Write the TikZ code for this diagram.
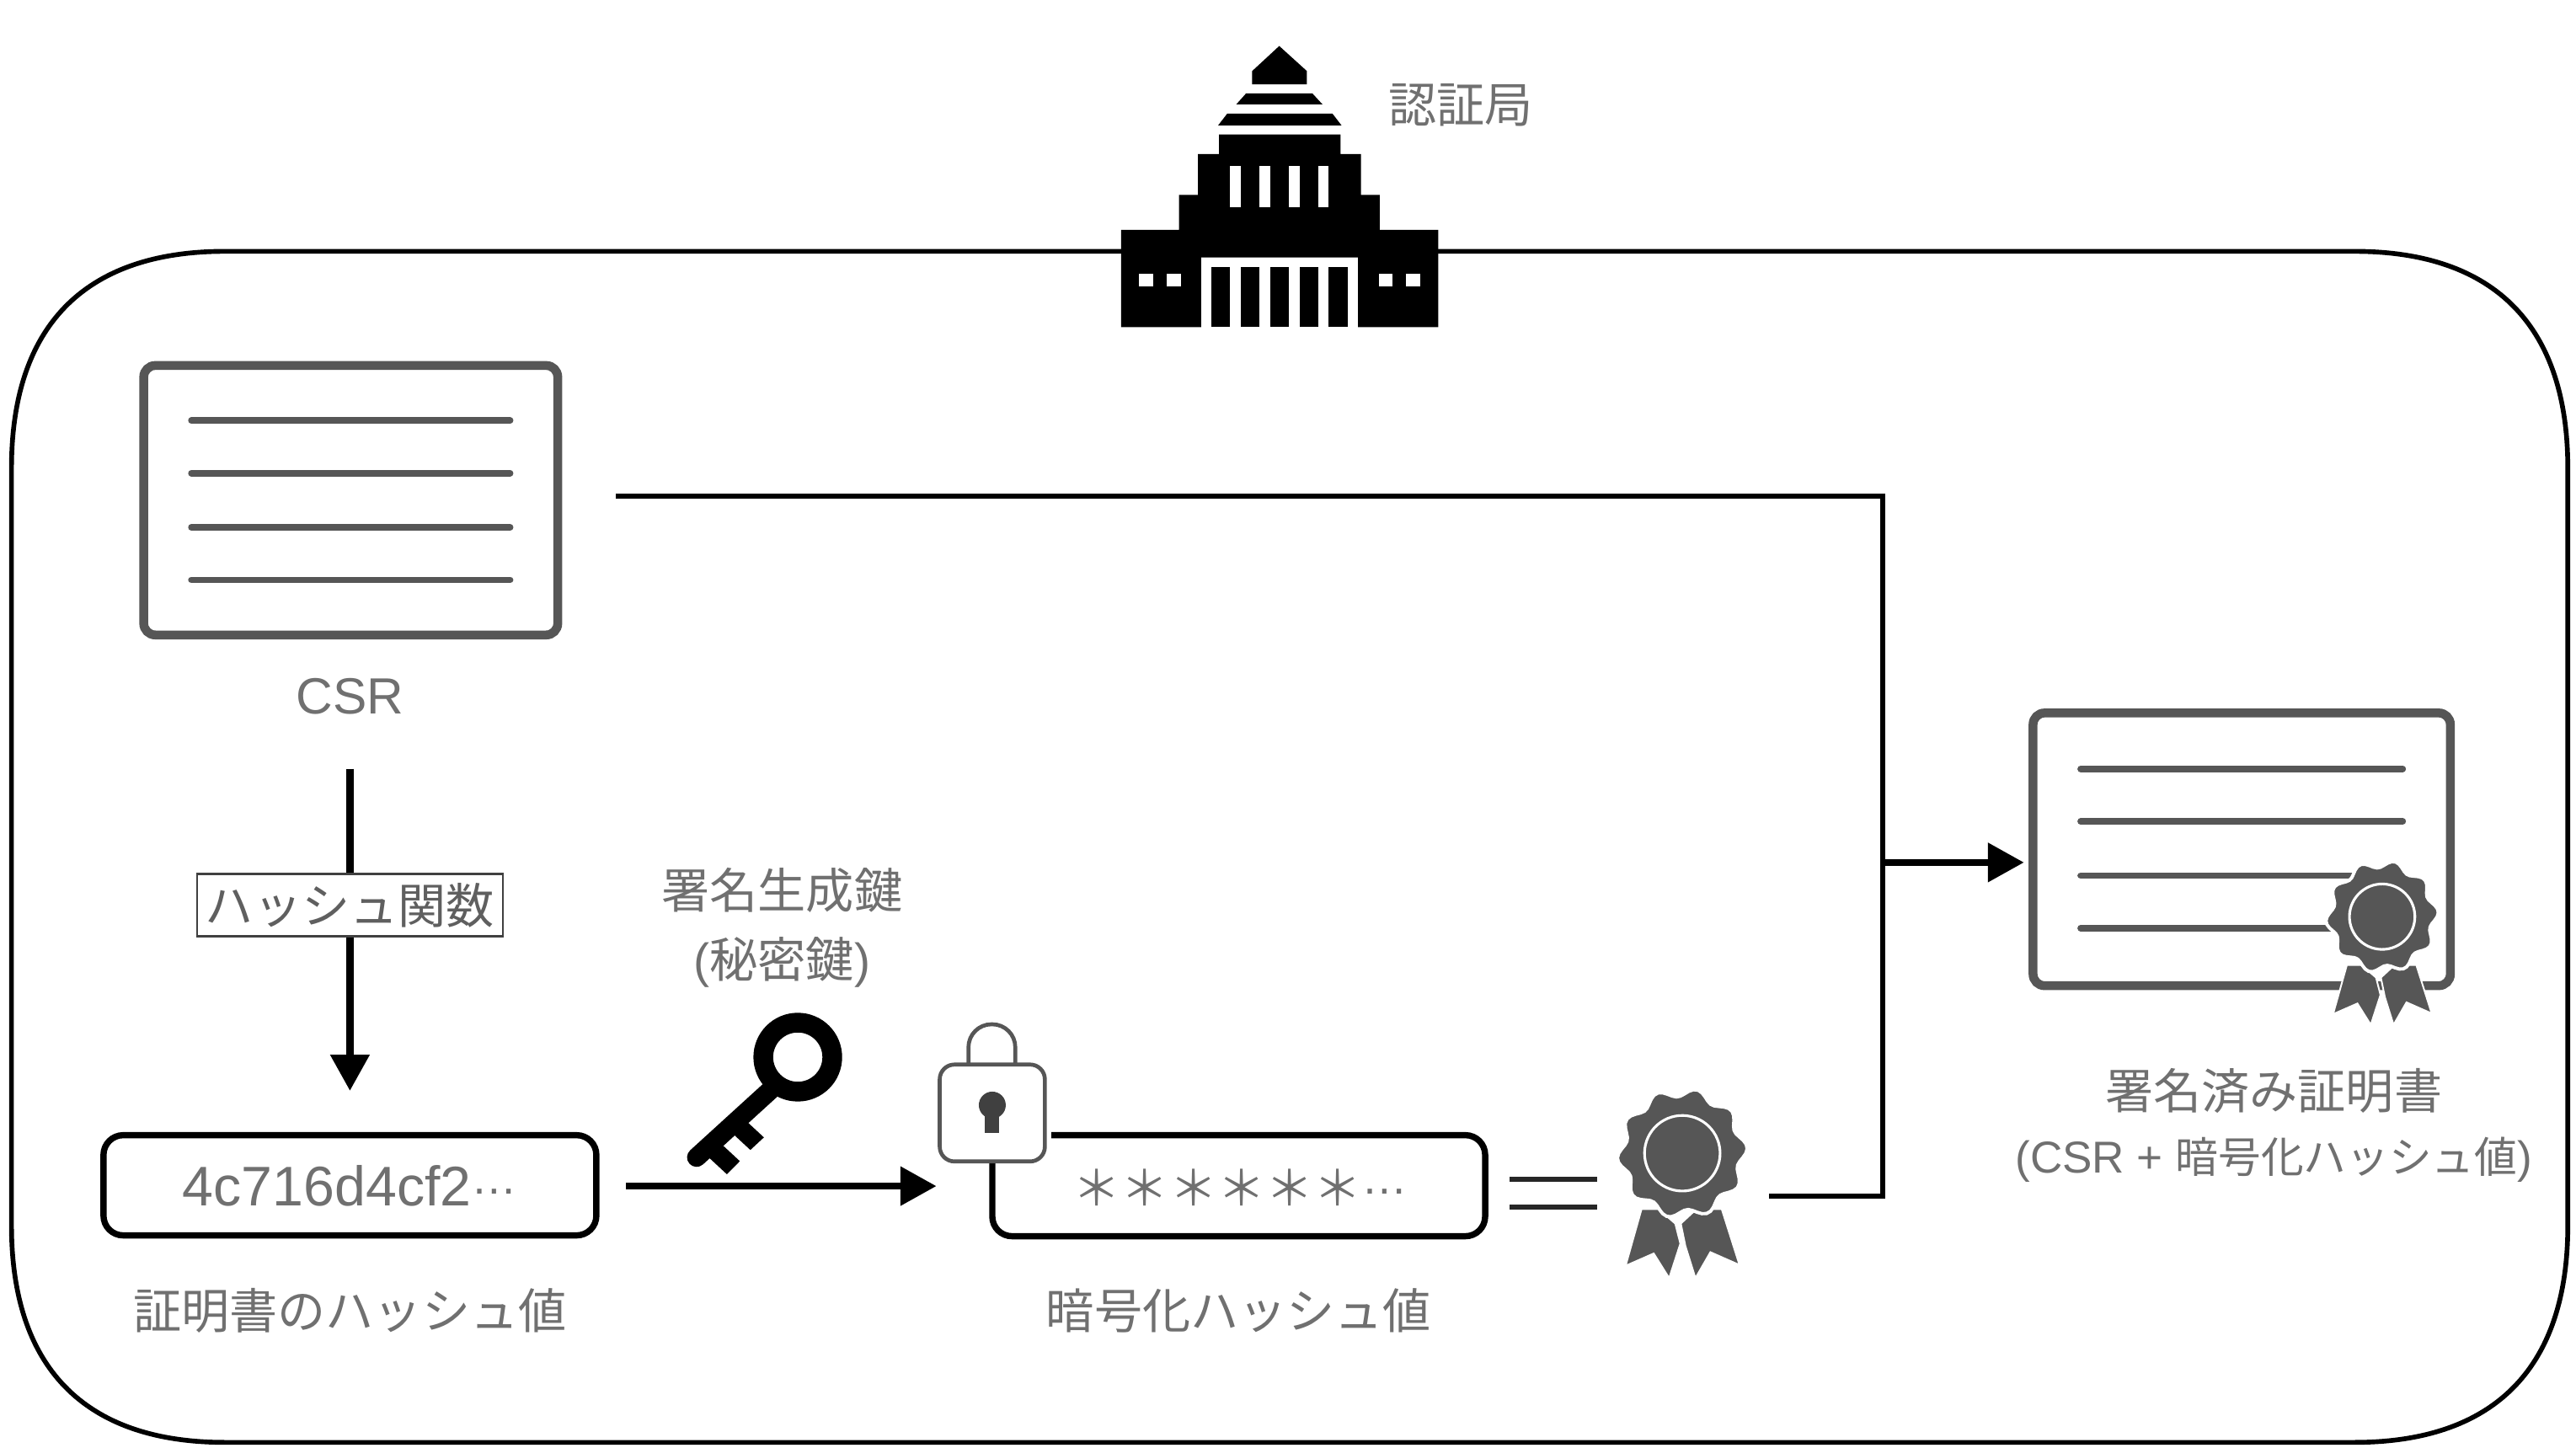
\documentclass[tikz,border=0pt]{standalone}
\usepackage{fontspec}
\setmainfont{Liberation Sans}
\newfontfamily\cjk{Noto Sans CJK JP}
\usetikzlibrary{arrows.meta}
\definecolor{txtgray}{HTML}{707070}
\definecolor{icongray}{HTML}{565656}
\tikzset{
  lbl/.style={text=txtgray,font=\cjk\fontsize{14.65}{18}\selectfont,inner sep=0pt,align=center},
  thinline/.style={draw=black,line width=1.55pt},
  thickline/.style={draw=black,line width=2.2pt},
  valuebox/.style={draw=black,line width=1.9pt,rounded corners=6pt,inner sep=0pt},
  docbox/.style={draw=icongray,line width=2.7pt,rounded corners=3.5pt,inner sep=0pt,minimum width=126pt,minimum height=82pt},
  docline/.style={draw=icongray,line width=2pt,line cap=round},
  headtip/.style={-{Triangle[length=11pt,width=11.5pt]}},
}
\newcommand{\middots}{\raisebox{3.6pt}{\rmfamily\fontsize{14}{18}\selectfont …}}
\newcommand{\sealicon}[3]{%
  \begin{scope}[shift={(#1,#2)},scale=#3]
    \fill[icongray,draw=white,line width=0.5pt] (-24.8,34)--(-14.5,34)--(-4.3,42.8)--(-1.2,55)--(-8,76)--(-17.4,61)--(-34.5,68.5)--cycle;
    \fill[icongray,draw=white,line width=0.5pt] (-0.9,42.8)--(8.6,34)--(24,34)--(34.8,68)--(17.1,60.2)--(8,76)--(1.9,56.5)--cycle;
    \path[fill=icongray,draw=white,line width=1pt] plot[domain=0:356,samples=90] ({(37+2.6*cos(10*\x+50))*cos(\x)},{(37+2.6*cos(10*\x+50))*sin(\x)}) -- cycle;
    \path[draw=white,line width=0.8pt] plot[domain=0:356,samples=60] ({23*cos(\x)},{23*sin(\x)}) -- cycle;
  \end{scope}}
\begin{document}
\begin{tikzpicture}[x=0.5pt,y=-0.5pt]
\useasboundingbox (0,0) rectangle (1568,881);
\fill[white] (0,0) rectangle (1568,881);
% frame
\draw[black,line width=1.45pt] (137,153) -- (1433,153)
  .. controls (1520,153) and (1563,200) .. (1563,285) -- (1563,746)
  .. controls (1563,831) and (1520,878) .. (1433,878) -- (137,878)
  .. controls (50,878) and (7,831) .. (7,746) -- (7,285)
  .. controls (7,200) and (50,153) .. (137,153) -- cycle;
% building
\begin{scope}[shift={(656.4,17)},x=0.0915pt,y=-0.0847pt]
  \fill[black] (668,65)--(760,155)--(760,203)--(578,203)--(578,155)--cycle;
  \fill[black] (558,235)--(778,235)--(812,275)--(525,275)--cycle;
  \fill[black] (495,308)--(845,308)--(875,350)--(465,350)--cycle;
  \fill[black] (468,383)--(872,383)--(872,453)--(940,453)--(940,600)--(1002,600)--(1002,726)--(1197,726)--(1197,1075)--(930,1075)--(930,825)--(408,825)--(408,1075)--(142,1075)--(142,726)--(335,726)--(335,600)--(398,600)--(398,453)--(468,453)--cycle;
  \foreach \a/\b in {505/540,602/638,700/736,797/833} \fill[white] (\a,495) rectangle (\b,645);
  \fill[white] (408,825) rectangle (930,1075);
  \foreach \a/\b in {442/505,540/603,637/700,735/798,832/895} \fill[black] (\a,860) rectangle (\b,1075);
  \foreach \a/\b in {202/248,294/340,1000/1045,1090/1137} \fill[white] (\a,882) rectangle (\b,930);
\end{scope}
\node[lbl] (ca) at (889,64) {認証局};
% CSR doc
\node[docbox] (csrdoc) at (213.5,304.5) {};
\foreach \yy in {256,288,321,353} \draw[docline] (116.5,\yy) -- (310.5,\yy);
\node[lbl,font=\fontsize{15.5}{18}\selectfont] (csr) at (213,424) {CSR};
% hash arrow
\coordinate (hashstart) at (213,468);
\node[draw=black!75,line width=0.6pt,minimum width=93pt,minimum height=19pt,inner sep=0pt,fill=white] (hashfn) at (213,551) {};
\coordinate (hashend) at (213,664);
\draw[thickline] (hashstart) -- (hashfn.north);
\draw[thickline,headtip] (hashfn.south) -- (hashend);
\node[lbl,text=txtgray!85!black] (hashtxt) at (213,551) {ハッシュ関数};
% hash box
\node[valuebox,minimum width=150pt,minimum height=30.5pt] (hashbox) at (213,721.5) {};
\node[lbl] (hashval) at (213,722) {{\rmfamily\fontsize{17}{18}\selectfont 4c716d4cf2}\middots};
\node[lbl] (hashcap) at (213,798) {証明書のハッシュ値};
% signing key labels
\node[lbl] (signkey) at (476,542) {署名生成鍵};
\node[lbl] (secret) at (476,586) {{\rmfamily (}秘密鍵{\rmfamily )}};
% key
\draw[black,line width=6pt] (485.6,643.5) circle[radius=10.5pt];
\coordinate (keyA) at (469,663.5);
\coordinate (keyB) at (424,704.5);
\draw[black,line width=5.8pt,line cap=round] (keyA) -- (keyB);
\begin{scope}[shift={(400,606.5)},x=0.0915pt,y=-0.085pt]
  \fill[black] (300,450)--(355,505)--(310,550)--(240,480)--cycle;
  \fill[black] (220,535)--(275,590)--(232,637)--(160,565)--cycle;
\end{scope}
% arrow to lock
\coordinate (arrowstart) at (381,722);
\coordinate (arrowend) at (570,722);
\draw[thickline,headtip] (arrowstart) -- (arrowend);
% encrypted box
\coordinate (boxa) at (640,691);
\coordinate (boxb) at (904,691);
\coordinate (boxc) at (904,752.5);
\coordinate (boxd) at (604,752.5);
\coordinate (boxe) at (604,705);
\draw[draw=black,line width=1.9pt,rounded corners=6pt] (boxa) -- (boxb) -- (boxc) -- (boxd) -- (boxe);
\node[lbl] (encval) at (755,723) {＊＊＊＊＊＊\middots};
\node[lbl] (enccap) at (754,798) {暗号化ハッシュ値};
% lock
\draw[draw=icongray,line width=1.2pt,rounded corners=7pt] (589.5,650) -- (589.5,623.5) -- (618,623.5) -- (618,650);
\node[draw=icongray,line width=1.2pt,rounded corners=4.5pt,minimum width=32pt,minimum height=29.5pt,inner sep=0pt,fill=white] (lock) at (604,677.5) {};
\fill[black!75] (604,672.7) circle[radius=4.1pt];
\fill[black!75] (599.5,676) rectangle (608,689.5);
% equals
\coordinate (eqa) at (919,718);
\coordinate (eqb) at (972,718);
\coordinate (eqc) at (919,735);
\coordinate (eqd) at (972,735);
\draw[thinline,black!85] (eqa) -- (eqb);
\draw[thinline,black!85] (eqc) -- (eqd);
% seal
\sealicon{1024}{702}{1}
% connectors
\coordinate (topstart) at (375,302);
\coordinate (corner1) at (1146,302);
\coordinate (corner2) at (1146,728);
\coordinate (sealout) at (1077,728);
\coordinate (junction) at (1146,525);
\coordinate (signedin) at (1232,525);
\draw[thinline] (topstart) -- (corner1) -- (corner2) -- (sealout);
\draw[thickline,headtip] (junction) -- (signedin);
% signed doc
\node[docbox,minimum width=127pt,minimum height=83pt] (signeddoc) at (1364.5,517) {};
\foreach \yy in {468,500,533,565} \draw[docline] (1266.5,\yy) -- (1462.5,\yy);
\sealicon{1450}{558}{0.866}
\node[lbl] (signedcap) at (1384,664) {署名済み証明書};
\node[lbl,font=\cjk\fontsize{13}{16}\selectfont] (signedsub) at (1384,706) {{\rmfamily\fontsize{13.6}{16}\selectfont (CSR + }暗号化ハッシュ値{\rmfamily\fontsize{13.6}{16}\selectfont )}};
\end{tikzpicture}
\end{document}
